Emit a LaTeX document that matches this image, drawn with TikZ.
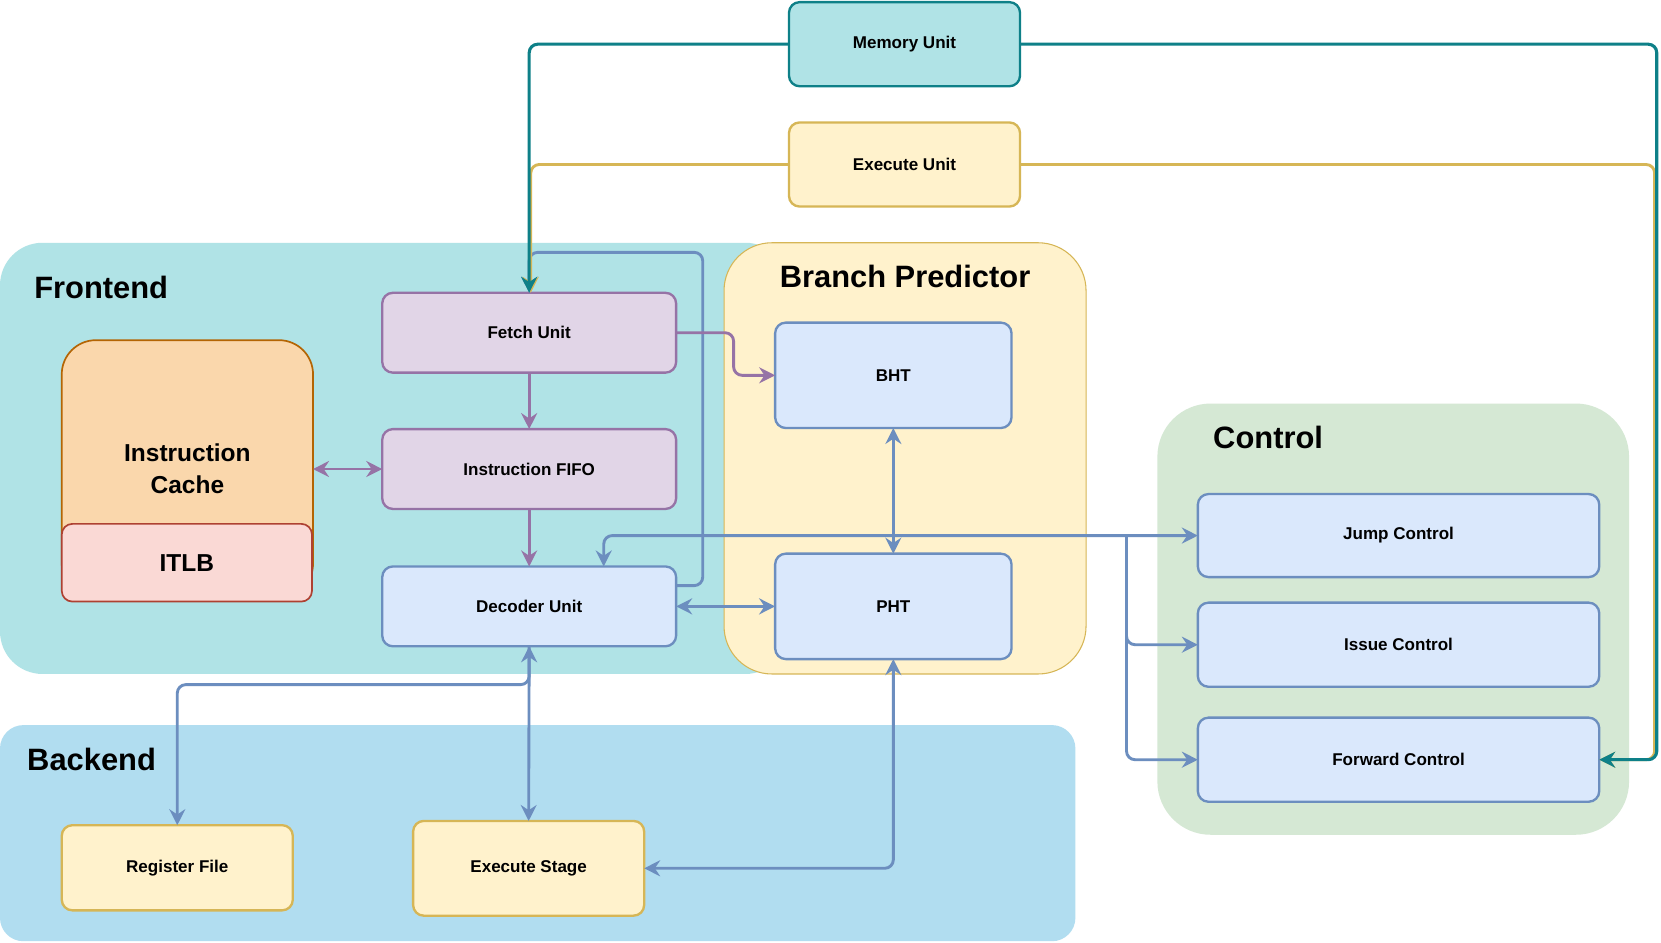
\documentclass[tikz,border=0pt]{standalone}
\usepackage{fontspec}
\setmainfont{Liberation Sans}
\usetikzlibrary{arrows.meta,calc}
\definecolor{tealF}{HTML}{B0E3E6}
\definecolor{tealS}{HTML}{0E8088}
\definecolor{yelF}{HTML}{FFF2CC}
\definecolor{yelS}{HTML}{D6B656}
\definecolor{purF}{HTML}{E1D5E7}
\definecolor{purS}{HTML}{9673A6}
\definecolor{bluF}{HTML}{DAE8FC}
\definecolor{bluS}{HTML}{6C8EBF}
\definecolor{oraF}{HTML}{FAD7AC}
\definecolor{oraS}{HTML}{B46504}
\definecolor{redF}{HTML}{FAD9D5}
\definecolor{redS}{HTML}{AE4132}
\definecolor{grnF}{HTML}{D5E8D4}
\definecolor{bckF}{HTML}{B1DDF0}
\newcommand\lblfont{\fontsize{16}{19}\selectfont\bfseries}
\newcommand\ttlfont{\fontsize{29}{34}\selectfont\bfseries}
\newcommand\bigfont{\fontsize{23}{30}\selectfont\bfseries}
\begin{document}
\begin{tikzpicture}[x=1pt,y=-1pt,
  >={Stealth[length=15pt,width=15pt,inset=5pt]},
  container/.style={draw=none, outer sep=0pt, inner sep=0pt},
  unitbox/.style={draw, rounded corners=10pt, line width=2.2pt, outer sep=0pt, inner sep=0pt, font=\lblfont},
  ttl/.style={inner sep=0pt, font=\ttlfont},
  conn/.style={line width=2.7pt, rounded corners=8pt},
  tl/.style={conn, draw=tealS, line width=2.9pt},
  yl/.style={conn, draw=yelS},
  pl/.style={conn, draw=purS},
  bl/.style={conn, draw=bluS}
]
\useasboundingbox (0,0) rectangle (1560,885);
\fill[white] (0,0) rectangle (1560,885);

% containers
\node[container, fill=tealF, rounded corners=40pt, minimum width=740pt, minimum height=405pt] (frontend) at (370,430.5) {};
\node[container, draw=yelS, line width=1pt, fill=yelF, rounded corners=45pt, minimum width=340pt, minimum height=405pt] (bp) at (850,430.5) {};
\node[container, fill=grnF, rounded corners=50pt, minimum width=443pt, minimum height=405pt] (ctrl) at (1308.5,581.5) {};
\node[container, fill=bckF, rounded corners=22pt, minimum width=1010pt, minimum height=203pt] (backend) at (505,782.5) {};

% titles
\node[ttl] (tfront) at (95,270) {Frontend};
\node[ttl] (tbp) at (850,260) {Branch Predictor};
\node[ttl] (tctrl) at (1191,411) {Control};
\node[ttl] (tback) at (86,713) {Backend};

% boxes
\node[unitbox, draw=tealS, fill=tealF, minimum width=217pt, minimum height=79pt] (mem) at (849.5,41.5) {Memory Unit};
\node[unitbox, draw=yelS, fill=yelF, minimum width=217pt, minimum height=79pt] (exu) at (849.5,154.5) {Execute Unit};
\node[unitbox, draw=purS, fill=purF, minimum width=276pt, minimum height=75pt] (fetch) at (497,312.5) {Fetch Unit};
\node[unitbox, draw=purS, fill=purF, minimum width=276pt, minimum height=75pt] (fifo) at (497,440.5) {Instruction FIFO};
\node[unitbox, draw=bluS, fill=bluF, minimum width=276pt, minimum height=75pt] (dec) at (497,569.5) {Decoder Unit};
\node[unitbox, draw=oraS, fill=oraF, rounded corners=32pt, line width=1.6pt, minimum width=236pt, minimum height=242pt, align=center, font=\bigfont] (ic) at (176,440.5) {Instruction\\Cache};
\node[unitbox, draw=redS, fill=redF, line width=1.6pt, minimum width=235pt, minimum height=73pt, font=\bigfont] (itlb) at (175.5,528.5) {ITLB};
\node[unitbox, draw=bluS, fill=bluF, minimum width=222pt, minimum height=99pt] (bht) at (839,352.5) {BHT};
\node[unitbox, draw=bluS, fill=bluF, minimum width=222pt, minimum height=99pt] (pht) at (839,569.5) {PHT};
\node[unitbox, draw=bluS, fill=bluF, minimum width=377pt, minimum height=78pt] (jump) at (1313.5,503) {Jump Control};
\node[unitbox, draw=bluS, fill=bluF, minimum width=377pt, minimum height=79pt] (issue) at (1313.5,605.5) {Issue Control};
\node[unitbox, draw=bluS, fill=bluF, minimum width=377pt, minimum height=79pt] (fwd) at (1313.5,713.5) {Forward Control};
\node[unitbox, draw=yelS, fill=yelF, minimum width=217pt, minimum height=80pt] (reg) at (166.5,815) {Register File};
\node[unitbox, draw=yelS, fill=yelF, minimum width=217pt, minimum height=89pt] (exs) at (496.5,815.5) {Execute Stage};

% connectors
\draw[bl,->] ($(dec.north east)+(0,18)$) -- ++(25,0) |- ($(fetch.north)+(0,-38)$) -- (fetch.north);
\draw[yl,->] (exu.west) -| ($(fetch.north)+(1.5,0)$);
\draw[tl,->] (mem.west) -| (fetch.north);
\draw[yl,->] (exu.east) -| ($(fwd.east)+(52,0)$) -- (fwd.east);
\draw[tl,->] (mem.east) -| ($(fwd.east)+(54,0)$) -- (fwd.east);

\draw[pl,->] (fetch.east) -- ($(fetch.east)+(54,0)$) |- (bht.west);
\draw[pl,->] (fetch.south) -- (fifo.north);
\draw[pl,->] (fifo.south) -- (dec.north);
\draw[pl,<->] (ic.east) -- (fifo.west);

\draw[bl,<->] (bht.south) -- (pht.north);
\draw[bl,<->] (dec.east) -- (pht.west);
\coordinate (split) at ($(jump.west)+(-67,0)$);
\draw[bl,<->] ($(dec.north)+(70,0)$) |- (jump.west);
\draw[bl,->] (split) |- (issue.west);
\draw[bl,->] (split) |- (fwd.west);
\draw[bl,<->] (dec.south) -- (exs.north);
\draw[bl,->] (dec.south) -- ($(dec.south)+(0,36)$) -| (reg.north);
\draw[bl,<->] (exs.east) -| (pht.south);
\end{tikzpicture}
\end{document}
